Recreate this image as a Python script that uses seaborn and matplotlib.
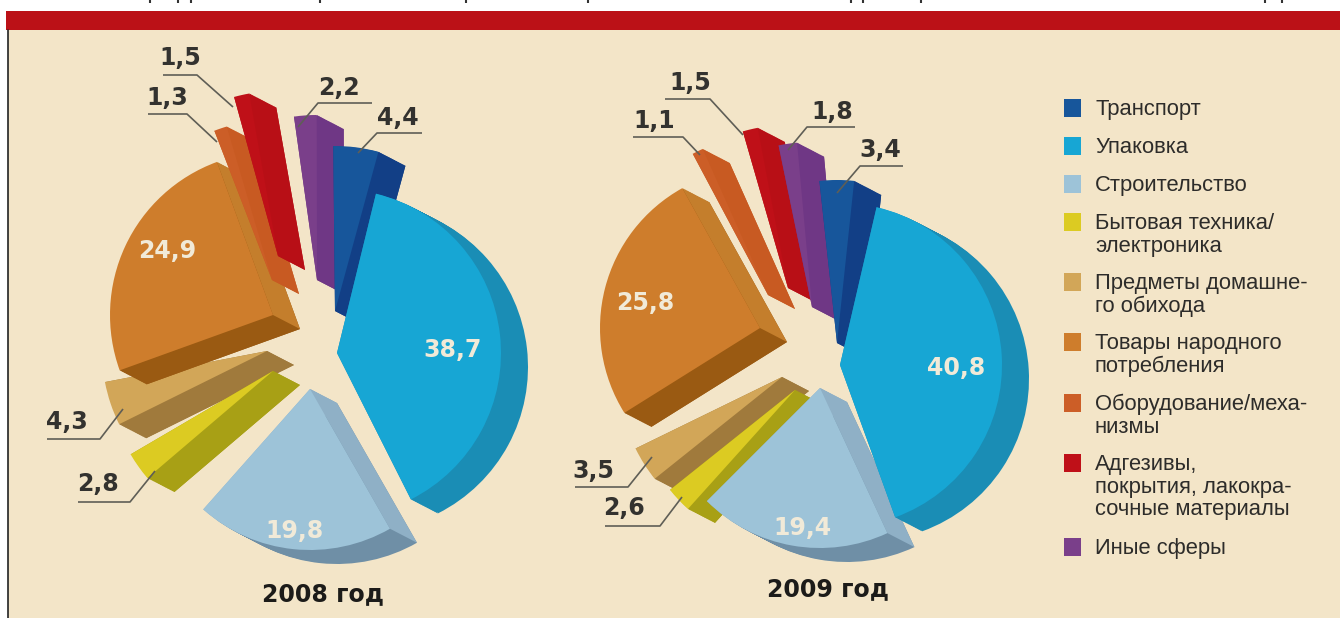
import matplotlib
matplotlib.use('Agg')
import matplotlib.pyplot as plt
import seaborn as sns
from matplotlib.patches import Polygon, Rectangle, Wedge
import numpy as np

# shares, clockwise from the top of each pie
values_2008 = [4.4, 38.7, 19.8, 2.8, 4.3, 24.9, 1.3, 1.5, 2.2]
values_2009 = [3.4, 40.8, 19.4, 2.6, 3.5, 25.8, 1.1, 1.5, 1.8]
labels_2008 = ['4,4', '38,7', '19,8', '2,8', '4,3', '24,9', '1,3', '1,5', '2,2']
labels_2009 = ['3,4', '40,8', '19,4', '2,6', '3,5', '25,8', '1,1', '1,5', '1,8']
sectors = ['Транспорт', 'Упаковка', 'Строительство', 'Бытовая техника/\nэлектроника',
           'Предметы домашне-\nго обихода', 'Товары народного\nпотребления',
           'Оборудование/меха-\nнизмы', 'Адгезивы,\nпокрытия, лакокра-\nсочные материалы',
           'Иные сферы']

# styles
faces = ['#17569b', '#17a6d4', '#9dc3d8', '#dccb22', '#d2a658', '#ce7d2c', '#cc5e27', '#bf1018', '#7a3f8a']
rims = ['#123f86', '#1a8db5', '#6f8fa6', '#a8a015', '#a07a3c', '#9a5a12', '#c85a22', '#b80f16', '#6f3785']
walls_start = ['#123f86', '#1a8db5', '#8fb0c6', '#a8a015', '#a07a3c', '#9a5a12', '#c85a22', '#b80f16', '#6f3785']
walls_end = ['#123f86', '#1a8db5', '#8fb0c6', '#a8a015', '#a07a3c', '#c47e2c', '#c85a22', '#b80f16', '#6f3785']
draw_order = [6, 8, 7, 1, 0, 2, 3, 4, 5]  # zorder per slice
depth = (27, 14)

# layout, in pixels of the 1340x618 picture
start_2008 = -3.1
start_2009 = 0.8
apex_2008 = [(335, 311), (337, 353), (310, 389), (273, 371), (267, 351), (273, 315), (272, 280), (278, 256), (317, 280)]
apex_2009 = [(837, 343), (840, 365), (820, 388), (795, 390), (782, 377), (760, 328), (768, 295), (788, 288), (812, 307)]
nudge_2008 = [2.5, 1, -2, 6, 10, 1, 0, 1, 3]
nudge_2009 = [-7, 0, -5, -8, -8, -14, -13, -5, -6]
radius_2008 = [165, 164, 161, 165, 165, 163, 160, 165, 165]
radius_2009 = [163, 162, 160, 160, 163, 160, 160, 163, 165]

text_2008 = [(398, 118), (453, 350), (295, 531), (98, 484), (67, 422), (167, 251), (167, 98), (180, 58), (339, 88)]
text_2009 = [(880, 150), (956, 368), (802, 528), (624, 508), (593, 471), (645, 303), (654, 121), (690, 83), (832, 112)]
leaders_2008 = {
    0: [(422, 133), (377, 133), (358, 153)], 3: [(78, 502), (130, 502), (155, 471)],
    4: [(47, 439), (100, 439), (123, 409)], 6: [(148, 114), (187, 114), (217, 142)],
    7: [(163, 75), (197, 75), (233, 107)], 8: [(372, 103), (318, 103), (298, 127)],
}
leaders_2009 = {
    0: [(903, 166), (860, 166), (837, 193)], 3: [(605, 526), (660, 526), (682, 497)],
    4: [(575, 487), (628, 487), (652, 457)], 6: [(633, 137), (683, 137), (700, 155)],
    7: [(665, 99), (710, 99), (743, 135)], 8: [(855, 127), (807, 127), (788, 150)],
}
inside = [1, 2, 5]  # slices with the value written on them

legend_y = [108, 146, 184, 222, 282, 342, 403, 463, 547]
title_marks = [150, 178, 191, 320, 466, 588, 851, 863, 921, 1265, 1282]

W, H = 1340, 618
sns.set_theme(style='white')
plt.rcParams['font.family'] = ['Liberation Sans', 'DejaVu Sans']


def flip(p):
    return (p[0], H - p[1])


def draw_pie(ax, values, start, apexes, nudges, radii, labels, text_pos, leaders, title, title_pos):
    wedges, _ = ax.pie(values, startangle=90 - start, counterclock=False, radius=160, colors=faces)
    for i, w in enumerate(wedges):
        cx, cy = flip(apexes[i])
        t1 = w.theta1 - nudges[i]
        t2 = w.theta2 - nudges[i]
        r = radii[i]
        z = 2 + draw_order[i]
        w.set_center((cx, cy))
        w.set_theta1(t1)
        w.set_theta2(t2)
        w.set_radius(r)
        w.set_zorder(z + 0.5)
        w.set_linewidth(0)
        # stacked copies make the rim of the slice
        for s in np.linspace(1, 0.05, 16):
            ax.add_patch(Wedge((cx + depth[0] * s, cy - depth[1] * s), r, t1, t2,
                               facecolor=rims[i], lw=0, zorder=z))
        # theta2 is the clockwise start of the slice, theta1 its clockwise end
        for t, col in ((t2, walls_start[i]), (t1, walls_end[i])):
            ex, ey = cx + r * np.cos(np.radians(t)), cy + r * np.sin(np.radians(t))
            quad = [(cx, cy), (ex, ey), (ex + depth[0], ey - depth[1]), (cx + depth[0], cy - depth[1])]
            ax.add_patch(Polygon(quad, facecolor=col, lw=0, zorder=z + 0.2))
    for i, lab in enumerate(labels):
        x, y = flip(text_pos[i])
        col = '#f1ead8' if i in inside else '#33322f'
        ax.text(x, y, lab, ha='center', va='center', fontsize=17, fontweight='bold',
                family='DejaVu Sans', color=col, zorder=30)
    for pts in leaders.values():
        xs, ys = zip(*[flip(p) for p in pts])
        ax.plot(xs, ys, color='#5f5e56', lw=1.2, zorder=29, solid_capstyle='butt')
    x, y = flip(title_pos)
    ax.text(x, y, title, ha='center', va='center', fontsize=17, fontweight='bold',
            family='DejaVu Sans', color='#1c1b19', zorder=30)


def main():
    fig = plt.figure(figsize=(W / 100, H / 100), dpi=100, facecolor='white')
    ax = fig.add_axes([0, 0, 1, 1])

    draw_pie(ax, values_2008, start_2008, apex_2008, nudge_2008, radius_2008, labels_2008,
             text_2008, leaders_2008, '2008 год', (323, 594))
    draw_pie(ax, values_2009, start_2009, apex_2009, nudge_2009, radius_2009, labels_2009,
             text_2009, leaders_2009, '2009 год', (828, 589))

    ax.set_xlim(0, W)
    ax.set_ylim(0, H)
    ax.set_axis_off()

    # page background, red band and left rule
    ax.add_patch(Rectangle((8, 0), W - 8, H - 30, facecolor='#f3e5c8', lw=0, zorder=0))
    ax.add_patch(Rectangle((6, H - 30), W - 6, 19, facecolor='#bb1117', lw=0, zorder=1))
    ax.plot([8, 8], [0, H - 30], color='#222222', lw=1.2, zorder=1)
    ax.vlines(title_marks, H - 3, H, color='#333333', lw=1.5, zorder=1)

    for i, name in enumerate(sectors):
        y = legend_y[i]
        ax.add_patch(Rectangle((1064, H - y - 9), 17, 18, facecolor=faces[i], lw=0, zorder=5))
        ax.text(1095, H - y + 9, name, ha='left', va='top', fontsize=15.8, color='#2d2c2a',
                linespacing=1.1, zorder=5)

    fig.savefig('out.png', dpi=100, facecolor='white')
    plt.close(fig)


if __name__ == '__main__':
    main()
